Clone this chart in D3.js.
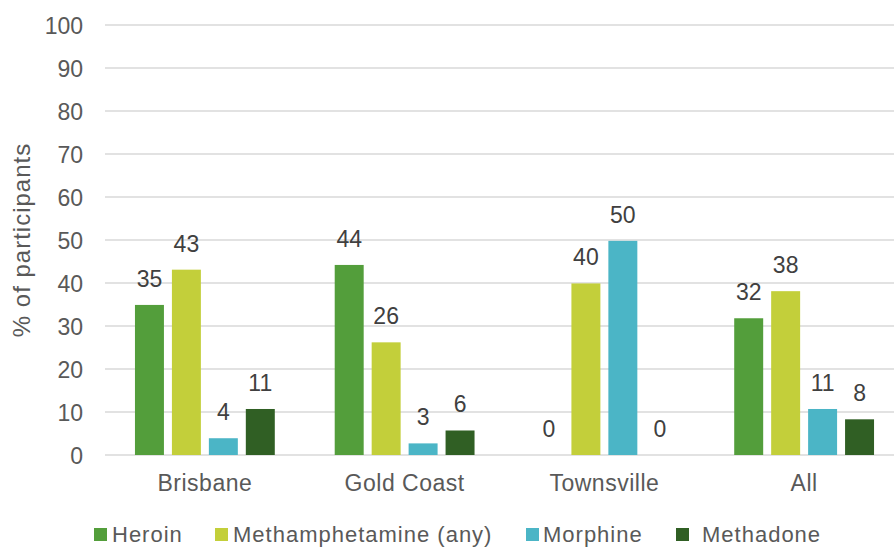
<!DOCTYPE html>
<html>
<head>
<meta charset="utf-8">
<script src="https://cdn.jsdelivr.net/npm/d3@7"></script>
<style>
  body { margin: 0; background: #fff; }
  svg { display: block; font-family: "Liberation Sans", Arial, sans-serif; }
</style>
</head>
<body>
<svg id="chart" width="894" height="547"></svg>
<script>
let locations = ["Brisbane", "Gold Coast", "Townsville", "All"];
let drugs = ["Heroin", "Methamphetamine (any)", "Morphine", "Methadone"];
let drugColours = ["#539e3b", "#c3cf3a", "#4bb5c6", "#305f24"];

// % of participants, one array per drug, in location order
let heroin = [34.9, 44.2, 0, 31.8];
let methamphetamine = [43.1, 26.2, 39.9, 38.1];
let morphine = [3.9, 2.7, 49.8, 10.7];
let methadone = [10.7, 5.7, 0, 8.3];

let yTicks = [0, 10, 20, 30, 40, 50, 60, 70, 80, 90, 100];

let seriesValues = [heroin, methamphetamine, morphine, methadone];

let svg = d3.select("#chart");

let x = d3.scaleBand().domain(locations).range([105, 904]).paddingInner(0.3).paddingOuter(0.15);
let xInner = d3.scaleBand().domain(drugs).range([0, x.bandwidth()]).paddingInner(0.216).paddingOuter(0);
let y = d3.scaleLinear().domain([0, 100]).range([455, 25]);
let colour = d3.scaleOrdinal().domain(drugs).range(drugColours);

// gridlines + tick labels
let yAxis = svg.append("g")
  .call(d3.axisLeft(y).tickValues(yTicks).tickSize(0).tickPadding(0))
  .attr("transform", "translate(83,0)");
yAxis.select(".domain").remove();
yAxis.selectAll("text")
  .attr("font-size", 23)
  .attr("font-family", "Liberation Sans, Arial, sans-serif")
  .attr("fill", "#595959")
  .attr("dy", "0.35em");

svg.append("g")
  .selectAll("line")
  .data(yTicks)
  .enter()
  .append("line")
  .attr("x1", 105)
  .attr("x2", 894)
  .attr("y1", (d) => y(d))
  .attr("y2", (d) => y(d))
  .attr("stroke", "#d9d9d9")
  .attr("stroke-width", 1.3);

// bars, grouped by location
let rows = locations.map((loc, i) => {
  return { location: loc, values: drugs.map((drug, j) => ({ drug: drug, value: seriesValues[j][i] })) };
});

let group = svg.selectAll("g.loc")
  .data(rows)
  .enter()
  .append("g")
  .attr("class", "loc")
  .attr("transform", (row) => "translate(" + x(row.location) + ",0)");

group.selectAll("rect")
  .data((row) => row.values)
  .enter()
  .append("rect")
  .attr("x", (d) => xInner(d.drug))
  .attr("y", (d) => y(d.value))
  .attr("width", xInner.bandwidth())
  .attr("height", (d) => y(0) - y(d.value))
  .attr("fill", (d) => colour(d.drug));

group.selectAll("text.val")
  .data((row) => row.values)
  .enter()
  .append("text")
  .attr("class", "val")
  .attr("x", (d) => xInner(d.drug) + xInner.bandwidth() / 2)
  .attr("y", (d) => y(d.value) - 18)
  .attr("text-anchor", "middle")
  .attr("font-size", 23)
  .attr("fill", "#404040")
  .text((d) => Math.round(d.value));

// category labels
let xAxis = svg.append("g")
  .attr("transform", "translate(0,455)")
  .call(d3.axisBottom(x).tickSize(0).tickPadding(0));
xAxis.select(".domain").remove();
xAxis.selectAll("text")
  .attr("font-size", 23)
  .attr("font-family", "Liberation Sans, Arial, sans-serif")
  .attr("letter-spacing", 0.5)
  .attr("fill", "#595959")
  .attr("dy", 0)
  .attr("y", 36);

// y axis title
svg.append("text")
  .attr("transform", "translate(30,240) rotate(-90)")
  .attr("text-anchor", "middle")
  .attr("font-size", 24)
  .attr("letter-spacing", 1)
  .attr("fill", "#595959")
  .text("% of participants");

// legend
let legendX = [94, 215, 526, 676];
let legendTextX = [112, 233, 543, 702];
let legend = svg.selectAll("g.legend")
  .data(drugs)
  .enter()
  .append("g")
  .attr("class", "legend");

legend.append("rect")
  .attr("x", (d, i) => legendX[i])
  .attr("y", 528)
  .attr("width", 13)
  .attr("height", 13)
  .attr("fill", (d) => colour(d));

legend.append("text")
  .attr("x", (d, i) => legendTextX[i])
  .attr("y", 542)
  .attr("font-size", 22)
  .attr("letter-spacing", 1)
  .attr("fill", "#595959")
  .text((d) => d);
</script>
</body>
</html>
